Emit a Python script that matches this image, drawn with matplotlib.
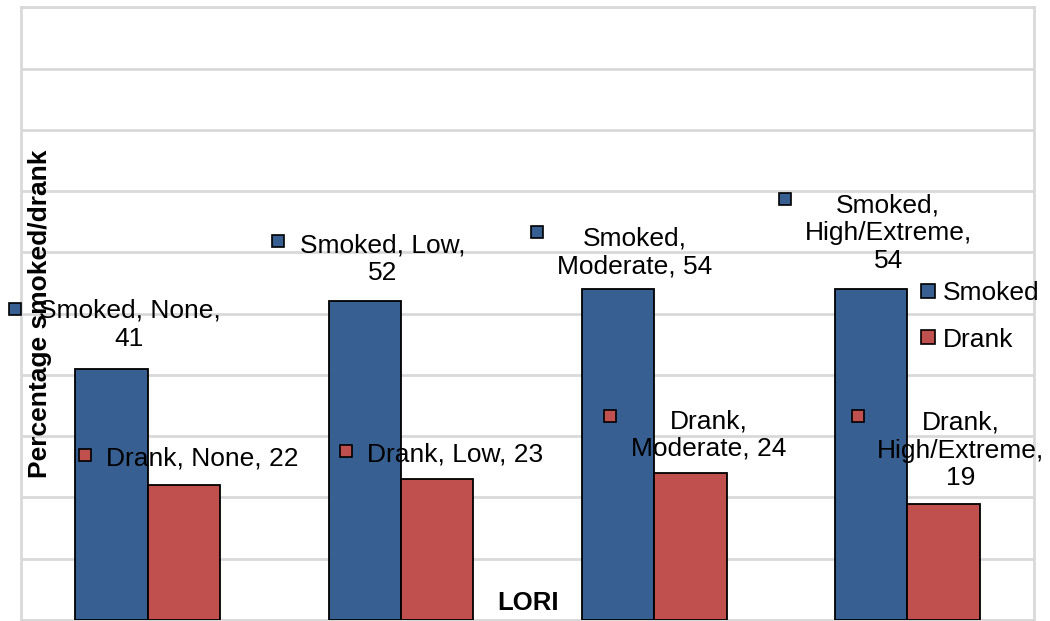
import matplotlib.pyplot as plt
import matplotlib.transforms as mtransforms
from matplotlib.lines import Line2D
import numpy as np

plt.rcParams['font.family'] = ['Liberation Sans', 'DejaVu Sans']

categories = ['None', 'Low', 'Moderate', 'High/Extreme']
smoked = [41, 52, 54, 54]
drank = [22, 23, 24, 19]

BLUE = '#385F91'
RED = '#C0504D'
GRID = '#D9D9D9'
FS = 19

# label layout: (text dx, text dy, marker dx, marker dy, text) offsets in pixels from bar top
smoked_labels = [
    (18, 44, -96, 60, 'Smoked, None,\n41'),
    (18, 42, -87, 60, 'Smoked, Low,\n52'),
    (17, 37, -81, 57, 'Smoked,\nModerate, 54'),
    (17, 56, -86, 90, 'Smoked,\nHigh/Extreme,\n54'),
]
drank_labels = [
    (18, 27, -99, 30, 'Drank, None, 22'),
    (18, 25, -91, 28, 'Drank, Low, 23'),
    (18, 38, -80, 57, 'Drank,\nModerate, 24'),
    (17, 53, -86, 88, 'Drank,\nHigh/Extreme,\n19'),
]

fig = plt.figure(figsize=(10.5, 6.21), dpi=100)
ax = fig.add_axes([0.02, 0.0016, 0.9648, 0.9864])

x = np.arange(len(categories))
w = 1 / 3.5
b1 = ax.bar(x - w / 2, smoked, w, color=BLUE, edgecolor='black', linewidth=1.3, zorder=3)
b2 = ax.bar(x + w / 2, drank, w, color=RED, edgecolor='black', linewidth=1.3, zorder=3)

ax.set_xlim(-0.5, len(categories) - 0.5)
ax.set_ylim(0, 100)
ax.set_yticks(np.arange(0, 101, 10))
ax.yaxis.grid(True, color=GRID, linewidth=2)
ax.set_axisbelow(True)
ax.tick_params(length=0, labelleft=False, labelbottom=False)
for s in ax.spines.values():
    s.set_color(GRID)
    s.set_linewidth(2)


def add_labels(bars, labels, color):
    for bar, (tdx, tdy, mdx, mdy, txt) in zip(bars, labels):
        xy = (bar.get_x() + bar.get_width() / 2, bar.get_height())
        ax.annotate(txt, xy, xytext=(tdx, tdy), textcoords='offset pixels',
                    ha='center', va='center', fontsize=FS, linespacing=1.2,
                    zorder=5)
        shift = mtransforms.ScaledTranslation(mdx / fig.dpi, mdy / fig.dpi, fig.dpi_scale_trans)
        ax.plot([xy[0]], [xy[1]], marker='s', markersize=9, color=color,
                markeredgecolor='black', markeredgewidth=1.2, zorder=6,
                clip_on=False, transform=ax.transData + shift)


add_labels(b1, smoked_labels, BLUE)
add_labels(b2, drank_labels, RED)

ax.text(0.019, 0.5, 'Percentage smoked/drank', transform=ax.transAxes,
        rotation=90, ha='center', va='center', fontsize=FS, fontweight='bold',
        zorder=7)
ax.text(0.5, 0.027, 'LORI', transform=ax.transAxes, ha='center', va='center',
        fontsize=18.5, fontweight='bold')

handles = [Line2D([], [], marker='s', linestyle='', markersize=10, color=BLUE,
                  markeredgecolor='black', markeredgewidth=1.2),
           Line2D([], [], marker='s', linestyle='', markersize=10, color=RED,
                  markeredgecolor='black', markeredgewidth=1.2)]
ax.legend(handles, ['Smoked', 'Drank'], loc='upper left', bbox_to_anchor=(0.888, 0.553),
          frameon=False, fontsize=FS, handlelength=0.6, handletextpad=0.25,
          labelspacing=0.85, borderpad=0, borderaxespad=0)

fig.savefig('out.png', dpi=100)
